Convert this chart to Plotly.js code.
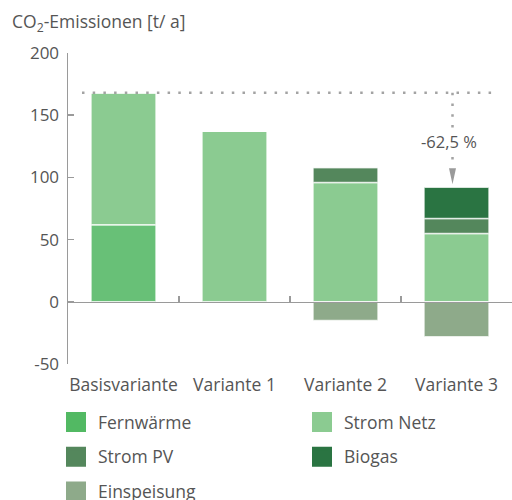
<!DOCTYPE html>
<html>
<head>
<meta charset="utf-8">
<script src="https://cdn.plot.ly/plotly-3.0.1.min.js"></script>
<style>html,body{margin:0;padding:0;background:#fff;}#chart{width:512px;height:500px;}</style>
</head>
<body>
<div id="chart"></div>
<script>
// ---- data ----
const categories = ["Basisvariante", "Variante 1", "Variante 2", "Variante 3"];
const fernwaerme = [62, 0, 0, 0];
const stromNetz  = [106, 137, 96, 55];
const stromPV    = [0, 0, 12, 12];
const biogas     = [0, 0, 0, 25];
const einspeisung = [0, 0, -15, -28];
const seriesNames = ["Fernwärme", "Strom Netz", "Strom PV", "Biogas", "Einspeisung"];
const barColors    = ["#68c077", "#8bcb91", "#54875c", "#2a7442", "#8eaa8a"];
const legendColors = ["#52b963", "#8bcb91", "#54875c", "#2a7442", "#8eaa8a"];
const yTickVals = [-50, 0, 50, 100, 150, 200];
const yTickText = ["-50", "0", "50", "100", "150", "200"];
const reductionLabel = "-62,5 %";
const yTitle = "CO<sub>2</sub>-Emissionen [t/ a]";

const txt = "#555555";
const font = "Open Sans, sans-serif";
const idx = [0, 1, 2, 3];

const seriesValues = [fernwaerme, stromNetz, stromPV, biogas, einspeisung];
const traces = [];
seriesValues.forEach((vals, i) => {
  traces.push({
    type: "bar", x: idx, y: vals, name: seriesNames[i], xaxis: "x", yaxis: "y",
    marker: {color: barColors[i], line: {color: "rgba(255,255,255,0.75)", width: 1.5}},
    showlegend: false, hoverinfo: "skip"
  });
});
// legend columns: legend (left column), legend2 (right column)
const legendFor = ["legend", "legend2", "legend", "legend2", "legend"];
seriesNames.forEach((n, i) => {
  traces.push({
    type: "scatter", mode: "markers", x: [null], y: [null], name: n,
    xaxis: "x2", yaxis: "y", legendgroup: "g" + i,
    marker: {symbol: "square", size: 16, color: legendColors[i], line: {color: legendColors[i], width: 4}},
    legend: legendFor[i], showlegend: true
  });
});

const baseTotal = fernwaerme[0] + stromNetz[0] + stromPV[0] + biogas[0];
const v3Top = fernwaerme[3] + stromNetz[3] + stromPV[3] + biogas[3];
const arrowX = 2.964;

function legendDef(xPx) {
  return {
    orientation: "v", xref: "container", yref: "container",
    x: xPx/512, xanchor: "left", y: 1 - 404/500, yanchor: "top",
    tracegroupgap: 9, itemwidth: 34,
    font: {family: font, size: 17.5, color: txt}, bgcolor: "rgba(0,0,0,0)"
  };
}

const layout = {
  width: 512, height: 500,
  margin: {l: 68, r: 0, t: 53, b: 136, autoexpand: false},
  paper_bgcolor: "#fff", plot_bgcolor: "#fff",
  barmode: "relative", bargap: 0.415,
  font: {family: font, size: 17, color: txt},
  title: {text: yTitle, xref: "container", yref: "container", x: 12/512, xanchor: "left", y: 1 - 22/500, yanchor: "middle",
          font: {family: font, size: 17.5, color: txt}},
  xaxis: {
    type: "linear", range: [-0.5, 3.5], anchor: "y", side: "bottom",
    tickvals: idx, ticktext: categories, ticks: "", ticklabelstandoff: 8, tickangle: 0,
    showline: false, showgrid: false, zeroline: false,
    tickfont: {family: font, size: 17.5, color: txt}
  },
  xaxis2: {
    type: "linear", range: [-0.5, 3.5], overlaying: "x", anchor: "free", position: 0.2,
    showline: true, linecolor: "#9a9a9a", linewidth: 1.5,
    ticks: "inside", ticklen: 6, tickcolor: "#9a9a9a", tickwidth: 1.5,
    tickvals: [0.5, 1.5, 2.5], showticklabels: false,
    showgrid: false, zeroline: false
  },
  yaxis: {
    range: [-50, 200], tickvals: yTickVals, ticktext: yTickText,
    showline: true, linecolor: "#9a9a9a", linewidth: 1.5,
    ticks: "inside", ticklen: 6, tickcolor: "#9a9a9a", tickwidth: 1.5,
    showgrid: false, zeroline: false, ticklabelstandoff: 4,
    tickfont: {family: font, size: 17, color: txt}
  },
  legend: legendDef(54),
  legend2: legendDef(300),
  shapes: [
    {type: "line", xref: "x", yref: "y", x0: -0.374, x1: 3.36, y0: baseTotal, y1: baseTotal,
     line: {color: "#a3a3a3", width: 2.5, dash: "2.5px,8.2px"}, layer: "above"},
    {type: "line", xref: "x", yref: "y", x0: arrowX, x1: arrowX, y0: baseTotal, y1: 113,
     line: {color: "#a3a3a3", width: 2.5, dash: "2.5px,8.2px"}, layer: "above"},
    {type: "path", xref: "x", yref: "y", xsizemode: "pixel", ysizemode: "pixel",
     xanchor: arrowX, yanchor: v3Top, path: "M-3.5,19 L3.5,19 L0,3 Z",
     fillcolor: "#9a9a9a", line: {width: 0}}
  ],
  annotations: [
    {xref: "x", yref: "y", x: arrowX, y: 128.8, text: reductionLabel, showarrow: false,
     xshift: -4, bgcolor: "#fff", font: {family: font, size: 16.5, color: txt}}
  ]
};

Plotly.newPlot("chart", traces, layout, {displayModeBar: false, staticPlot: true});
</script>
</body>
</html>
